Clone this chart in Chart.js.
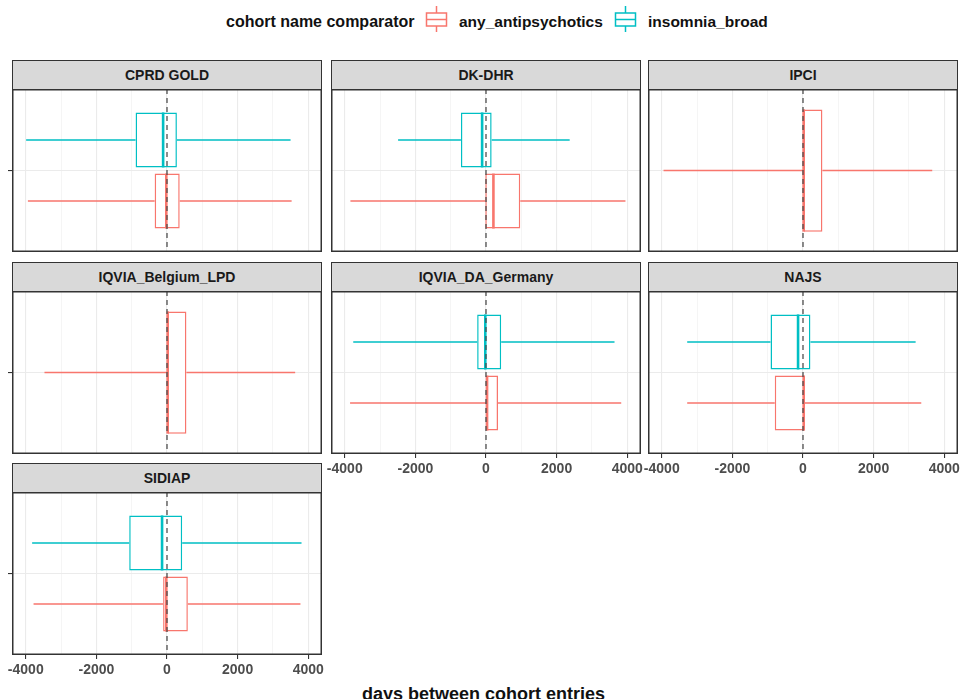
<!DOCTYPE html>
<html><head><meta charset="utf-8">
<script src="https://cdn.jsdelivr.net/npm/chart.js@4.4.1/dist/chart.umd.min.js"></script>
<style>
html,body{margin:0;padding:0;background:#fff;}
#root{position:relative;width:962px;height:699px;overflow:hidden;font-family:"Liberation Sans",Arial,sans-serif;background:#fff;}
.strip{position:absolute;box-sizing:border-box;background:#D9D9D9;border:1.5px solid #333;color:#1A1A1A;font-weight:bold;font-size:14px;display:flex;align-items:center;justify-content:center;}
canvas{position:absolute;}
.lg{position:absolute;font-weight:bold;color:#111;white-space:nowrap;line-height:20px;}
svg{position:absolute;}
</style></head>
<body><div id="root"></div>
<script>
// ---------------- data ----------------
const panels = ['CPRD GOLD','DK-DHR','IPCI','IQVIA_Belgium_LPD','IQVIA_DA_Germany','NAJS','SIDIAP'];
const groups = ['any_antipsychotics','insomnia_broad'];
const yCategories = [''];
// any_antipsychotics: whisker low, Q1, median, Q3, whisker high (days)
const antiLow  = [-3940, -3840, -3950, -3470, -3850, -3280, -3780];
const antiQ1   = [ -350,   -20,     0,     0,     0,  -800,  -110];
const antiMed  = [  -20,   210,    20,    20,    30,    20,   -20];
const antiQ3   = [  360,   970,   550,   550,   340,    50,   590];
const antiHigh = [ 3530,  3950,  3660,  3630,  3830,  3350,  3780];
// insomnia_broad (null = not available)
const insLow   = [-3990, -2490, null, null, -3760, -3280, -3820];
const insQ1    = [ -890,  -710, null, null,  -250,  -920, -1070];
const insMed   = [ -110,  -110, null, null,   -20,  -140,  -140];
const insQ3    = [  280,   160, null, null,   430,   210,   430];
const insHigh  = [ 3500,  2370, null, null,  3640,  3190,  3810];
const majorTicks = [-4000, -2000, 0, 2000, 4000];
const minorTicks = [-3000, -1000, 1000, 3000];
const xMin = -4390, xMax = 4390;

// ---------------- style / layout ----------------
const colors = {any_antipsychotics:'#F8766D', insomnia_broad:'#00BFC4'};
const colLeft = [12, 331, 648];
const stripTop = [60, 262, 463];
const stripH = 29, plotH = 163, panelW = 310;
const bottomPanels = [4,5,6];
const FONT = '"Liberation Sans", Arial, sans-serif';
Chart.defaults.font.family = FONT;

const root = document.getElementById('root');

// legend
function addText(txt, left, top, size){
  const d=document.createElement('div'); d.className='lg'; d.textContent=txt;
  d.style.left=left+'px'; d.style.top=top+'px'; d.style.fontSize=size+'px'; root.appendChild(d); return d;
}
function keySvg(color,left){
  const ns='http://www.w3.org/2000/svg';
  const s=document.createElementNS(ns,'svg'); s.setAttribute('width','24'); s.setAttribute('height','26');
  s.style.left=left+'px'; s.style.top='6px';
  s.innerHTML=`<g stroke="${color}" stroke-width="1.5" fill="#fff"><line x1="11.5" y1="0" x2="11.5" y2="7"/><line x1="11.5" y1="20" x2="11.5" y2="26"/><rect x="1.5" y="7" width="20" height="13"/><line x1="1.5" y1="13.5" x2="21.5" y2="13.5"/></g>`;
  root.appendChild(s);
}
addText('cohort name comparator', 226, 12, 16);
keySvg(colors.any_antipsychotics, 425);
addText(groups[0], 459, 12, 15.5);
keySvg(colors.insomnia_broad, 614);
addText(groups[1], 648, 12, 15.5);
const xt = addText('days between cohort entries', 0, 685, 18);
xt.style.left='0px'; xt.style.width='967px'; xt.style.textAlign='center'; xt.style.lineHeight='18px'; xt.style.color='#111';

const boxPlugin = {
  id: 'boxWhisker',
  afterDatasetsDraw(chart){
    const {ctx, chartArea} = chart; const x = chart.scales.x;
    ctx.save();
    chart.data.datasets.forEach((d, di) => {
      const meta = chart.getDatasetMeta(di);
      meta.data.forEach((el, j) => {
        const st = d.stats[j];
        const y = el.y, h = el.height;
        ctx.strokeStyle = d.borderColor; ctx.lineWidth = 1.5; ctx.setLineDash([]);
        ctx.beginPath();
        ctx.moveTo(x.getPixelForValue(st.low), y); ctx.lineTo(x.getPixelForValue(st.q1), y);
        ctx.moveTo(x.getPixelForValue(st.q3), y); ctx.lineTo(x.getPixelForValue(st.high), y);
        ctx.stroke();
        const m = x.getPixelForValue(st.med);
        ctx.lineWidth = 2.6;
        ctx.beginPath(); ctx.moveTo(m, y - h/2); ctx.lineTo(m, y + h/2); ctx.stroke();
      });
    });
    const zx = x.getPixelForValue(0);
    ctx.strokeStyle = 'rgba(70,70,70,0.95)'; ctx.lineWidth = 1.3; ctx.setLineDash([5,4]);
    ctx.beginPath(); ctx.moveTo(zx, chartArea.top); ctx.lineTo(zx, chartArea.bottom); ctx.stroke();
    ctx.setLineDash([]);
    ctx.strokeStyle = '#333'; ctx.lineWidth = 1.5;
    ctx.strokeRect(chartArea.left+0.75, chartArea.top+0.75, chartArea.width-1.5, chartArea.height-1.5);
    ctx.restore();
  }
};

function makeDs(name, i, low, q1, med, q3, high){
  return {
    label: name,
    data: [[q1[i], q3[i]]],
    stats: [{low: low[i], q1: q1[i], med: med[i], q3: q3[i], high: high[i]}],
    backgroundColor: '#ffffff',
    borderColor: colors[name],
    borderWidth: 1.5,
    borderSkipped: false
  };
}

panels.forEach((name, i) => {
  const col = i % 3, row = Math.floor(i / 3);
  const left = colLeft[col], sTop = stripTop[row];
  const isLeft = col === 0, isBottom = bottomPanels.includes(i);
  // strip
  const s = document.createElement('div'); s.className='strip'; s.textContent = name;
  s.style.left = left+'px'; s.style.top = sTop+'px'; s.style.width = panelW+'px'; s.style.height = (stripH+1)+'px';
  root.appendChild(s);
  // canvas
  const padSide = 26, yW = isLeft ? 5 : 0, xH = isBottom ? 26 : 0;
  const cv = document.createElement('canvas');
  const W = panelW + 2*padSide, H = plotH + xH;
  cv.width = W; cv.height = H; cv.style.width = W+'px'; cv.style.height = H+'px';
  cv.style.left = (left - padSide)+'px'; cv.style.top = (sTop + stripH)+'px';
  root.appendChild(cv);

  const datasets = [];
  if (insQ1[i] !== null) datasets.push(makeDs('insomnia_broad', i, insLow, insQ1, insMed, insQ3, insHigh));
  datasets.push(makeDs('any_antipsychotics', i, antiLow, antiQ1, antiMed, antiQ3, antiHigh));
  datasets.forEach(d => { d.categoryPercentage = 0.75; d.barPercentage = datasets.length === 2 ? 0.9 : 1; });

  new Chart(cv, {
    type: 'bar',
    data: { labels: yCategories, datasets },
    plugins: [boxPlugin],
    options: {
      indexAxis: 'y', responsive: false, animation: false, devicePixelRatio: 1, events: [],
      layout: { padding: { left: padSide - yW, right: padSide, top: 0, bottom: 0 } },
      plugins: { legend: { display: false }, tooltip: { enabled: false } },
      scales: {
        x: {
          type: 'linear', min: xMin, max: xMax,
          afterBuildTicks: sc => { sc.ticks = majorTicks.concat(minorTicks).sort((a,b)=>a-b).map(v => ({value: v})); },
          afterFit: sc => { sc.height = xH; sc.paddingLeft = 0; sc.paddingRight = 0; },
          border: { display: false },
          grid: {
            color: c => (c.tick && majorTicks.includes(c.tick.value)) ? '#EBEBEB' : '#F2F2F2',
            lineWidth: c => (c.tick && majorTicks.includes(c.tick.value)) ? 1.1 : 0.8,
            drawTicks: isBottom, tickLength: 4,
            tickColor: c => (c.tick && majorTicks.includes(c.tick.value)) ? '#333' : 'rgba(0,0,0,0)'
          },
          ticks: {
            display: isBottom, autoSkip: false, maxRotation: 0, padding: 3,
            color: '#4D4D4D', font: { size: 14, weight: 'bold', family: FONT },
            callback: v => majorTicks.includes(v) ? String(v) : ''
          }
        },
        y: {
          type: 'category', offset: true,
          afterFit: sc => { sc.width = yW; sc.paddingTop = 0; sc.paddingBottom = 0; },
          border: { display: false },
          grid: { offset: false, color: '#EBEBEB', lineWidth: 1.1, drawTicks: isLeft, tickLength: 4, tickColor: '#333' },
          ticks: { display: isLeft, padding: 0, callback: () => '' }
        }
      }
    }
  });
});
</script>
</body></html>
